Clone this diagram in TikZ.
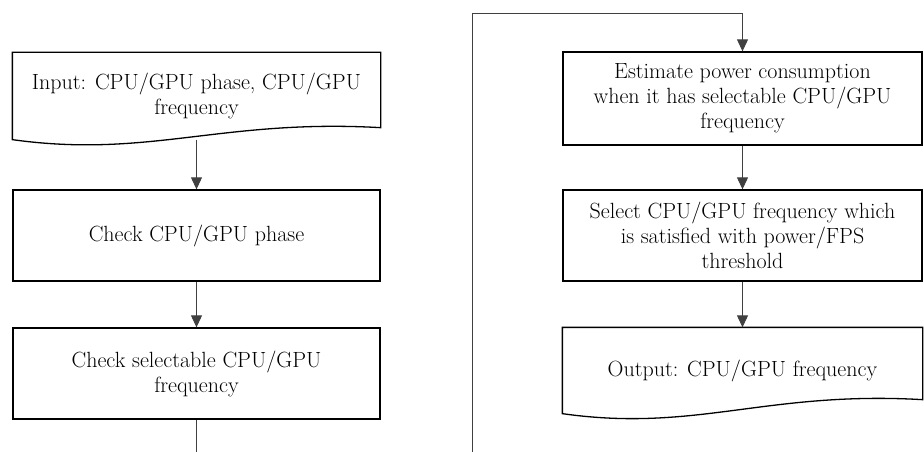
\documentclass[tikz,border=0pt]{standalone}
\usetikzlibrary{arrows.meta,calc}
\begin{document}
\begin{tikzpicture}[x=1pt,y=-1pt,
    box/.style={draw, line width=1.3pt, minimum width=367pt, minimum height=91pt,
        inner sep=0pt, align=center, font=\fontsize{22}{25}\selectfont},
    docbox/.style={box, draw=none, minimum height=86pt},
    link/.style={line width=0.9pt, draw=black!75},
    flow/.style={link, -{Triangle[width=11pt,length=12pt]}}]
    \useasboundingbox (0,0) rectangle (924,452);

    % Left column
    \node[docbox] (in) at (196.5,96) {Input: CPU/GPU phase, CPU/GPU\\frequency};
    \node[box] (phase) at (196.5,235.5) {Check CPU/GPU phase};
    \node[box] (check) at (196.5,373.5) {Check selectable CPU/GPU\\frequency};

    % Right column
    \node[box, minimum width=359pt, minimum height=93pt] (est) at (742.5,98.5)
        {Estimate power consumption\\when it has selectable CPU/GPU\\frequency};
    \node[box, minimum width=359pt] (pick) at (742.5,235.5)
        {Select CPU/GPU frequency which\\is satisfied with power/FPS\\threshold};
    \node[docbox, minimum width=359pt, minimum height=85pt] (out) at (742.5,370.5)
        {Output: CPU/GPU frequency};

    % Document outlines
    \draw[line width=1.3pt] (in.north west) -- (in.south west)
        .. controls ($(in.south west)+(137,19)$) and ($(in.south east)+(-160,-21)$)
        .. ($(in.south east)+(0,-12)$) -- (in.north east) -- cycle;
    \draw[line width=1.3pt] (out.north west) -- (out.south west)
        .. controls ($(out.south west)+(134,19)$) and ($(out.south east)+(-157,-23)$)
        .. ($(out.south east)+(0,-14)$) -- (out.north east) -- cycle;

    % Continuation ends
    \coordinate (leftend) at (196.5,452);
    \coordinate (rightend) at (472,452);

    % Connectors
    \draw[flow] (in) -- (phase);
    \draw[flow] (phase) -- (check);
    \draw[link] (check) -- (leftend);
    \draw[flow] (rightend) |- ($(est.north)+(0,-38)$) -- (est);
    \draw[flow] (est) -- (pick);
    \draw[flow] (pick) -- (out);

\end{tikzpicture}
\end{document}
